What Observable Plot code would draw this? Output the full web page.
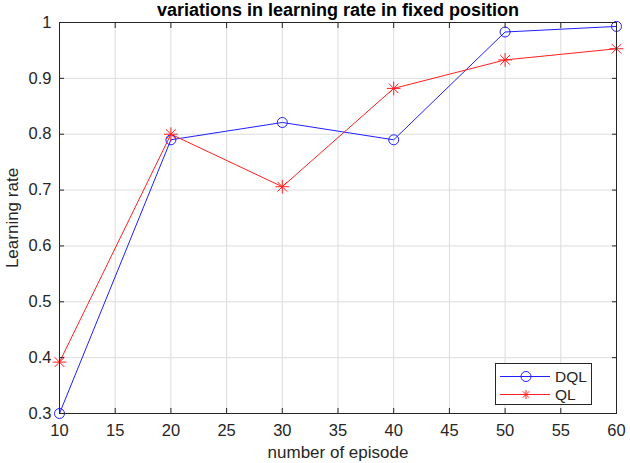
<!DOCTYPE html>
<html>
<head>
<meta charset="utf-8">
<script src="https://cdn.jsdelivr.net/npm/d3@7"></script>
<script src="https://cdn.jsdelivr.net/npm/@observablehq/plot@0.6"></script>
<style>
  body { margin: 0; background: white; font-family: "Liberation Sans", Arial, sans-serif; }
  #wrap { position: relative; width: 630px; height: 463px; }
  #legend { position: absolute; left: 495px; top: 363px; width: 97px; height: 42px; border: 1px solid #262626; background: white; box-sizing: border-box; }
  #legend svg { position: absolute; left: 0; top: 0; }
</style>
</head>
<body>
<div id="wrap"></div>
<script>
const episodes = [10, 20, 30, 40, 50, 60];
const dql = [0.300, 0.790, 0.821, 0.790, 0.983, 0.993];
const ql = [0.392, 0.800, 0.706, 0.882, 0.933, 0.953];
const xTicks = [10, 15, 20, 25, 30, 35, 40, 45, 50, 55, 60];
const yTicks = [0.3, 0.4, 0.5, 0.6, 0.7, 0.8, 0.9, 1];
const seriesNames = ["DQL", "QL"];
const seriesColors = ["#1f1fff", "#ff1f1f"];
const titleText = "variations in learning rate in fixed position";
const xLabel = "number of episode";
const yLabel = "Learning rate";

const dqlData = episodes.map((e, i) => ({x: e, y: dql[i]}));
const qlData = episodes.map((e, i) => ({x: e, y: ql[i]}));
const yFmt = d => d === 1 ? "1" : d.toFixed(1);
const axisColor = "#262626";

const chart = Plot.plot({
  width: 630,
  height: 463,
  marginTop: 22,
  marginBottom: 50,
  marginLeft: 59,
  marginRight: 14,
  style: {fontFamily: "'Liberation Sans', Arial, sans-serif", fontSize: "16.5px", color: axisColor, background: "white", overflow: "visible"},
  x: {domain: [10, 60]},
  y: {domain: [0.3, 1]},
  marks: [
    Plot.gridX(xTicks, {stroke: "#dcdcdc", strokeOpacity: 1}),
    Plot.gridY(yTicks, {stroke: "#dcdcdc", strokeOpacity: 1}),
    Plot.line(dqlData, {x: "x", y: "y", stroke: seriesColors[0], strokeWidth: 1}),
    Plot.line(qlData, {x: "x", y: "y", stroke: seriesColors[1], strokeWidth: 1}),
    Plot.dot(dqlData, {x: "x", y: "y", r: 5, stroke: seriesColors[0], strokeWidth: 1, fill: "none"}),
    Plot.dot(qlData, {x: "x", y: "y", r: 4.5, symbol: "plus", stroke: seriesColors[1], strokeWidth: 1}),
    Plot.dot(qlData, {x: "x", y: "y", r: 4.5, symbol: "times", stroke: seriesColors[1], strokeWidth: 1}),
    Plot.frame({stroke: axisColor, strokeWidth: 1}),
    Plot.axisX(xTicks, {anchor: "bottom", tickSize: 0, tickPadding: 11, fontSize: 16.5, fill: axisColor, label: null}),
    Plot.axisX(xTicks, {anchor: "bottom", tickSize: -5, tickFormat: () => "", stroke: axisColor, label: null}),
    Plot.axisX(xTicks, {anchor: "top", tickSize: -5, tickFormat: () => "", stroke: axisColor, label: null}),
    Plot.axisY(yTicks, {anchor: "left", tickSize: 0, tickPadding: 8, tickFormat: yFmt, fontSize: 16.5, fill: axisColor, label: null}),
    Plot.axisY(yTicks, {anchor: "left", tickSize: -5, tickFormat: () => "", stroke: axisColor, label: null}),
    Plot.axisY(yTicks, {anchor: "right", tickSize: -5, tickFormat: () => "", stroke: axisColor, label: null}),
    Plot.text([titleText], {frameAnchor: "top", lineAnchor: "middle", dy: -12, fontWeight: "bold", fontSize: 18, fill: "#000"}),
    Plot.text([xLabel], {frameAnchor: "bottom", lineAnchor: "middle", dy: 39, fontSize: 17, fill: axisColor}),
    Plot.text([yLabel], {frameAnchor: "left", textAnchor: "middle", lineAnchor: "middle", dx: -47, rotate: -90, fontSize: 17, fill: axisColor})
  ]
});
document.getElementById("wrap").appendChild(chart);

// legend
const legend = document.createElement("div");
legend.id = "legend";
const ns = "http://www.w3.org/2000/svg";
const lsvg = document.createElementNS(ns, "svg");
lsvg.setAttribute("width", 97);
lsvg.setAttribute("height", 42);
seriesNames.forEach((name, i) => {
  const cy = 12.5 + i * 18;
  const g = document.createElementNS(ns, "g");
  const ln = document.createElementNS(ns, "line");
  ln.setAttribute("x1", 4); ln.setAttribute("x2", 54);
  ln.setAttribute("y1", cy); ln.setAttribute("y2", cy);
  ln.setAttribute("stroke", seriesColors[i]);
  g.appendChild(ln);
  if (i === 0) {
    const c = document.createElementNS(ns, "circle");
    c.setAttribute("cx", 30); c.setAttribute("cy", cy); c.setAttribute("r", 5);
    c.setAttribute("fill", "none"); c.setAttribute("stroke", seriesColors[i]);
    g.appendChild(c);
  } else {
    const p = document.createElementNS(ns, "path");
    const r = 4.5, d = r * Math.SQRT1_2;
    p.setAttribute("d", `M30,${cy - r}V${cy + r}M${30 - r},${cy}H${30 + r}M${30 - d},${cy - d}L${30 + d},${cy + d}M${30 - d},${cy + d}L${30 + d},${cy - d}`);
    p.setAttribute("stroke", seriesColors[i]);
    g.appendChild(p);
  }
  const t = document.createElementNS(ns, "text");
  t.setAttribute("x", 59); t.setAttribute("y", cy);
  t.setAttribute("dy", "0.35em");
  t.setAttribute("font-size", 15.5);
  t.setAttribute("fill", "#262626");
  t.setAttribute("font-family", "'Liberation Sans', Arial, sans-serif");
  t.textContent = name;
  g.appendChild(t);
  lsvg.appendChild(g);
});
legend.appendChild(lsvg);
document.getElementById("wrap").appendChild(legend);
</script>
</body>
</html>
